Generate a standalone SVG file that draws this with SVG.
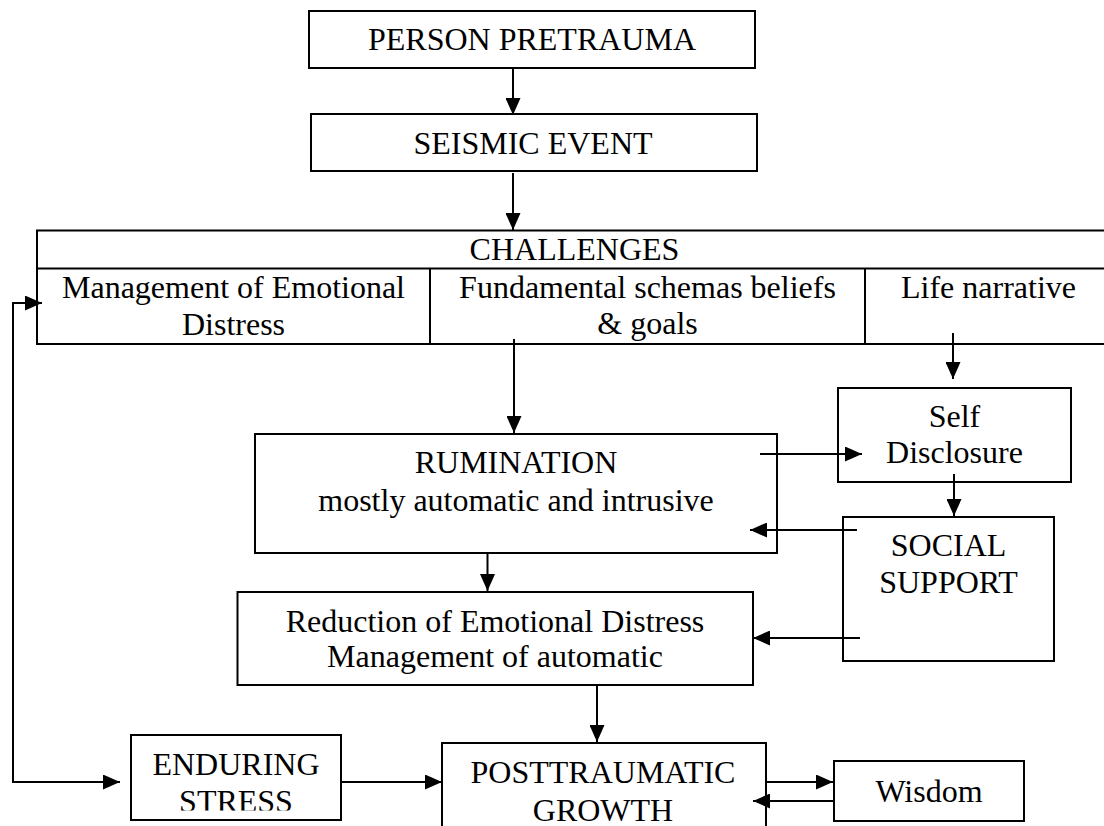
<svg xmlns="http://www.w3.org/2000/svg" width="1104" height="826" viewBox="0 0 1104 826">
  <style>
    .box { fill: #ffffff; stroke: #000000; stroke-width: 2; }
    .rule { fill: none; stroke: #000000; stroke-width: 2; }
    .lbl { font-family: "Liberation Serif", "Times New Roman", serif; font-size: 32px; fill: #000000; text-anchor: middle; }
    .conn { fill: none; stroke: #000000; stroke-width: 2; marker-end: url(#arrow); }
  </style>
  <defs>
    <marker id="arrow" markerUnits="userSpaceOnUse" markerWidth="17" markerHeight="15" refX="17" refY="7.5" orient="auto-start-reverse">
      <path d="M0,0 L17,7.5 L0,15 Z" fill="#000000"/>
    </marker>
    <!-- the text frame cuts its last line short -->
    <clipPath id="clipEnduring"><rect x="131" y="735" width="210" height="75.5"/></clipPath>
  </defs>

  <rect width="1104" height="826" fill="#ffffff"/>

  <g id="person-pretrauma">
    <rect class="box" x="309" y="11" width="446" height="57"/>
    <text class="lbl" x="532" y="50">PERSON PRETRAUMA</text>
  </g>

  <g id="seismic-event">
    <rect class="box" x="311" y="114" width="446" height="57"/>
    <text class="lbl" x="533" y="154">SEISMIC EVENT</text>
  </g>

  <g id="challenges">
    <rect class="box" x="37" y="230.5" width="1080" height="113.5"/>
    <line class="rule" x1="37" y1="268.5" x2="1117" y2="268.5"/>
    <line class="rule" x1="430" y1="268.5" x2="430" y2="344"/>
    <line class="rule" x1="865" y1="268.5" x2="865" y2="344"/>
    <text class="lbl" x="574.5" y="260">CHALLENGES</text>
    <text class="lbl" x="233.5" y="298">Management of Emotional</text>
    <text class="lbl" x="233.5" y="335">Distress</text>
    <text class="lbl" x="647.5" y="298">Fundamental schemas beliefs</text>
    <text class="lbl" x="647.5" y="334">&amp; goals</text>
    <text class="lbl" x="988.5" y="298">Life narrative</text>
  </g>

  <g id="rumination">
    <rect class="box" x="255" y="434" width="522" height="119"/>
    <text class="lbl" x="516" y="473">RUMINATION</text>
    <text class="lbl" x="516" y="511">mostly automatic and intrusive</text>
  </g>

  <g id="self-disclosure">
    <rect class="box" x="838" y="388" width="233" height="94"/>
    <text class="lbl" x="954.5" y="427">Self</text>
    <text class="lbl" x="954.5" y="463">Disclosure</text>
  </g>

  <g id="social-support">
    <rect class="box" x="843" y="517" width="211" height="144"/>
    <text class="lbl" x="948.5" y="556">SOCIAL</text>
    <text class="lbl" x="948.5" y="593">SUPPORT</text>
  </g>

  <g id="reduction">
    <rect class="box" x="237.5" y="592" width="515.5" height="93"/>
    <text class="lbl" x="495" y="632">Reduction of Emotional Distress</text>
    <text class="lbl" x="495" y="667">Management of automatic</text>
  </g>

  <g id="enduring-stress">
    <rect class="box" x="131" y="735" width="210" height="85"/>
    <g clip-path="url(#clipEnduring)">
      <text class="lbl" x="236" y="775">ENDURING</text>
      <text class="lbl" x="236" y="812">STRESS</text>
    </g>
  </g>

  <g id="posttraumatic-growth">
    <rect class="box" x="442" y="743" width="324" height="100"/>
    <text class="lbl" x="603" y="783">POSTTRAUMATIC</text>
    <text class="lbl" x="603" y="821">GROWTH</text>
  </g>

  <g id="wisdom">
    <rect class="box" x="834" y="761" width="190" height="60"/>
    <text class="lbl" x="929" y="802">Wisdom</text>
  </g>

  <g id="connectors">
    <line class="conn" x1="513" y1="69" x2="513" y2="115"/>
    <line class="conn" x1="513" y1="173" x2="513" y2="230"/>
    <line class="conn" x1="514" y1="339" x2="514" y2="433"/>
    <line class="conn" x1="953" y1="333" x2="953" y2="379"/>
    <line class="conn" x1="760" y1="454" x2="862" y2="454"/>
    <line class="conn" x1="954" y1="474" x2="954" y2="516"/>
    <line class="conn" x1="857" y1="530" x2="750" y2="530"/>
    <line class="conn" x1="487.5" y1="553" x2="487.5" y2="591"/>
    <line class="conn" x1="860" y1="638" x2="753" y2="638"/>
    <line class="conn" x1="597" y1="686" x2="597" y2="742"/>
    <line class="conn" x1="341" y1="782" x2="442" y2="782"/>
    <line class="conn" x1="766" y1="782" x2="833" y2="782"/>
    <line class="conn" x1="833" y1="801" x2="753" y2="801"/>
    <!-- feedback loop: challenges <-> enduring stress -->
    <path class="conn" d="M120,782 H13 V303 H42" style="marker-start: url(#arrow);"/>
  </g>
</svg>
